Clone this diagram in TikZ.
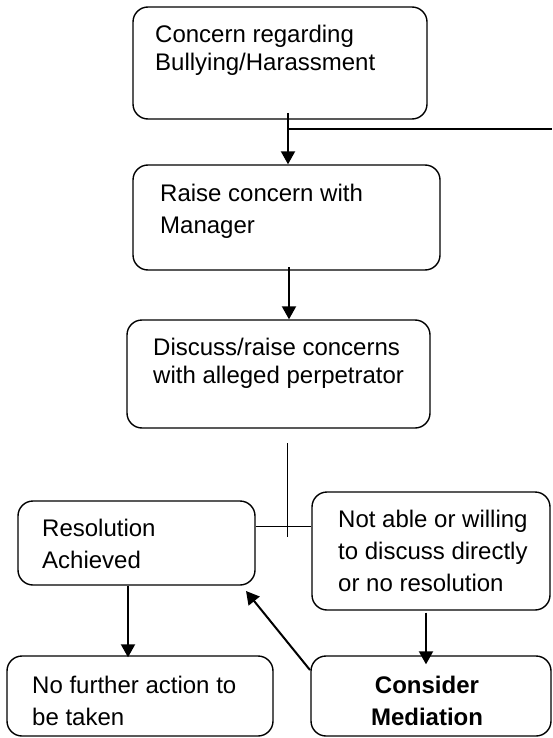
\documentclass[tikz,border=0pt]{standalone}
\usepackage{fontspec}
\setmainfont{Liberation Sans}
\usetikzlibrary{arrows.meta}
\begin{document}
\begin{tikzpicture}[x=1pt,y=-1pt,
  box/.style={draw, line width=1.4pt, rounded corners=15pt, inner sep=0pt},
  txt/.style={anchor=west, align=left, inner sep=0pt, font=\fontsize{24}{32}\selectfont},
  txtb/.style={anchor=west, align=left, inner sep=0pt, font=\fontsize{24}{28}\selectfont},
  ctxt/.style={anchor=center, align=center, inner sep=0pt, font=\fontsize{24}{32}\selectfont\bfseries},
  arr/.style={line width=2pt, -{Triangle[length=13pt,width=14pt]}},
  thinline/.style={line width=1pt},
  thickline/.style={line width=2pt}]
\useasboundingbox (0,0) rectangle (552,738);
\fill[white] (0,0) rectangle (552,738);

% boxes
\node[box, minimum width=294pt, minimum height=112pt] (b1) at (280,63) {};
\node[box, minimum width=307pt, minimum height=105pt] (b2) at (286.5,217.5) {};
\node[box, minimum width=303pt, minimum height=108pt] (b3) at (278.5,374) {};
\node[box, minimum width=237pt, minimum height=84pt] (b4) at (136.5,543) {};
\node[box, minimum width=238pt, minimum height=118pt] (b5) at (431,551) {};
\node[box, minimum width=266pt, minimum height=80pt] (b6) at (140,696) {};
\node[box, minimum width=240pt, minimum height=80pt] (b7) at (431,696) {};

% texts
\node[txtb] (t1) at (155,50.5) {\strut Concern regarding\\\strut Bullying/Harassment};
\node[txt] (t2) at (160,211) {\strut Raise concern with\\\strut Manager};
\node[txtb] (t3) at (153,363.5) {\strut Discuss/raise concerns\\\strut with alleged perpetrator};
\node[txt] (t4) at (42,546) {\strut Resolution\\\strut Achieved};
\node[txt] (t5) at (338,553.5) {\strut Not able or willing\\\strut to discuss directly\\\strut or no resolution};
\node[txt] (t6) at (32,703) {\strut No further action to\\\strut be taken};
\node[ctxt] (t7) at (427,703) {\strut Consider\\\strut Mediation};

% connectors
\coordinate (a1s) at (288,113);
\coordinate (a1b) at (288,129);
\coordinate (redge) at (552,129);
\draw[arr] (a1s) -- (b2.north -| a1s);
\draw[thickline] (a1b) -- (redge);

\coordinate (a2s) at (289,267);
\draw[arr] (a2s) -- (b3.north -| a2s);

\coordinate (vtop) at (287,443);
\coordinate (vbot) at (287,537);
\draw[thinline] (vtop) -- (vbot);
\draw[thinline] (b4.east |- 0,526) -- (b5.west |- 0,526);

\coordinate (a4s) at (b4.south -| 128,0);
\draw[arr] (a4s) -- ([yshift=-2pt]b6.north -| a4s);

\coordinate (a5s) at ([yshift=-2pt]b5.south -| 426,0);
\draw[arr] (a5s) -- ([yshift=-9pt]b7.north -| a5s);

\coordinate (dgs) at (310,670);
\coordinate (dge) at (246,591);
\draw[arr] (dgs) -- (dge);
\end{tikzpicture}
\end{document}
